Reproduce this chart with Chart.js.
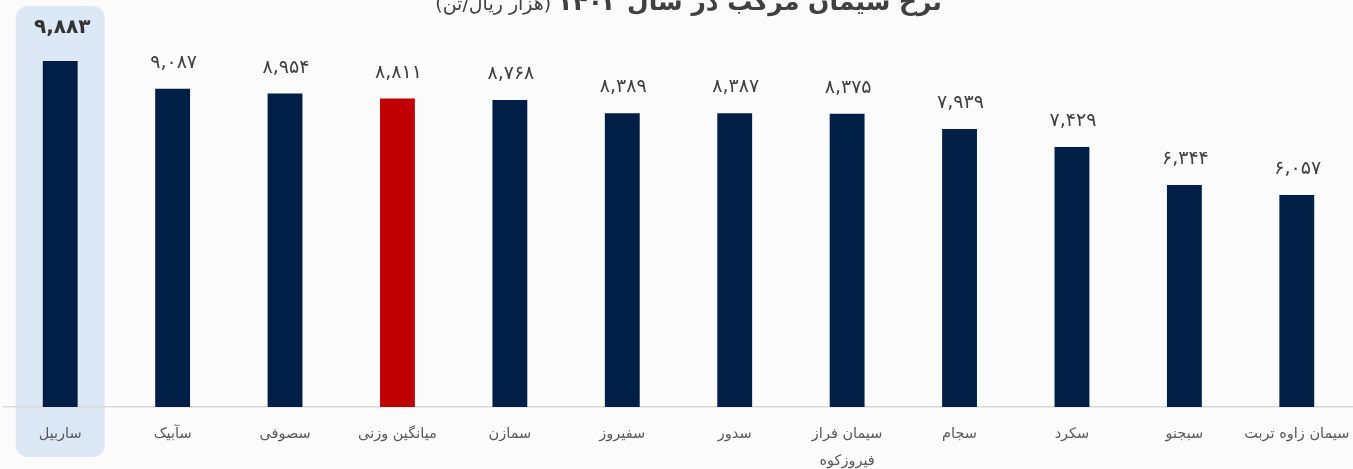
<!DOCTYPE html>
<html><head><meta charset="utf-8">
<script src="https://cdn.jsdelivr.net/npm/chart.js@4"></script>
<style>
html,body{margin:0;padding:0;background:#fbfbfb;}
#wrap{width:1353px;height:469px;position:relative;}
</style></head>
<body><div id="wrap"><canvas id="c"></canvas></div>
<script>
const categories = ["ساربیل","سآبیک","سصوفی","میانگین وزنی","سمازن","سفیروز","سدور",["سیمان فراز","فیروزکوه"],"سجام","سکرد","سبجنو","سیمان زاوه تربت"];
const values = [9883,9087,8954,8811,8768,8389,8387,8375,7939,7429,6344,6057];
const barColors = ["#001f47","#001f47","#001f47","#c00000","#001f47","#001f47","#001f47","#001f47","#001f47","#001f47","#001f47","#001f47"];
const titleBold = "نرخ سیمان مرکب در سال ۱۴۰۲";
const titleLight = " (هزار ریال/تن)";
const highlightIndex = 0;

const fa = n => n.toLocaleString('en-US').replace(/\d/g, d => "۰۱۲۳۴۵۶۷۸۹"[d]);

const FONT = "'DejaVu Sans', sans-serif";

const deco = {
  id:'deco',
  beforeDraw(chart){
    const ctx = chart.ctx;
    const bar = chart.getDatasetMeta(0).data[highlightIndex];
    if(!bar) return;
    ctx.save();
    ctx.fillStyle = "#dce8f5";
    ctx.beginPath();
    ctx.roundRect(bar.x-44.5, 6, 89, 451, 12);
    ctx.fill();
    ctx.restore();
  },
  afterDatasetsDraw(chart){
    const ctx = chart.ctx;
    const meta = chart.getDatasetMeta(0);
    ctx.save();
    ctx.textAlign = 'center';
    ctx.textBaseline = 'alphabetic';
    meta.data.forEach((b,i)=>{
      if(i===highlightIndex){
        ctx.font = "bold 20px " + FONT;
        ctx.fillStyle = "#333333";
        ctx.fillText(fa(values[i]), b.x+2, b.y-28);
      } else {
        ctx.font = "19px " + FONT;
        ctx.fillStyle = "#404040";
        ctx.fillText(fa(values[i]), b.x+1, b.y-21);
      }
    });
    // title
    ctx.direction = 'rtl';
    ctx.textAlign = 'right';
    ctx.fillStyle = "#404040";
    ctx.font = "bold 25px " + FONT;
    const rightX = 942;
    ctx.fillText(titleBold, rightX, 10);
    const w = ctx.measureText(titleBold).width;
    ctx.font = "19px " + FONT;
    ctx.fillText(titleLight, rightX - w, 10);
    ctx.restore();
  }
};

new Chart(document.getElementById('c'), {
  type:'bar',
  data:{labels:categories, datasets:[{data:values, backgroundColor:barColors, barPercentage:0.31, categoryPercentage:1}]},
  options:{
    responsive:true, maintainAspectRatio:false, animation:false,
    layout:{padding:0},
    plugins:{legend:{display:false}, tooltip:{enabled:false}, title:{display:false}},
    scales:{
      x:{
        grid:{display:false, drawTicks:false},
        border:{display:true, color:"#d9d9d9", width:1.5},
        ticks:{color:"#595959", font:{family:FONT, size:14.5, lineHeight:1.86}, padding:14, maxRotation:0, autoSkip:false},
        afterFit(s){ s.height = 62; s.paddingLeft = 4; s.paddingRight = 0; }
      },
      y:{display:false, min:0, max:11625}
    }
  },
  plugins:[deco]
});
</script></body></html>
